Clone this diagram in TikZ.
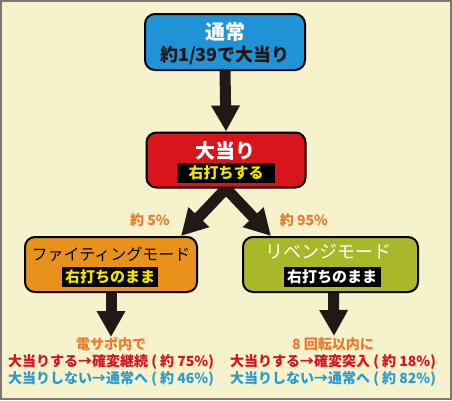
\documentclass[tikz,border=0pt]{standalone}
\usepackage{fontspec}
\setmainfont{Noto Sans CJK JP}
\usetikzlibrary{arrows.meta,backgrounds}
\definecolor{paper}{HTML}{F6F2CB}
\definecolor{framegray}{HTML}{7D7873}
\definecolor{ink}{HTML}{231815}
\definecolor{boxblue}{HTML}{1F93D6}
\definecolor{boxred}{HTML}{D7151B}
\definecolor{boxorange}{HTML}{E8921C}
\definecolor{boxgreen}{HTML}{A9B829}
\definecolor{stripyellow}{HTML}{F3E600}
\definecolor{noteorange}{HTML}{E97A2E}
\definecolor{notered}{HTML}{D7141D}
\definecolor{noteblue}{HTML}{2A9BD0}
\tikzset{
BOX/.style ={draw=black,line width=2pt,rounded corners=10pt,fill=#1,inner sep=0pt},
TITLE/.style ={text=#1,inner sep=0pt,font=\bfseries\fontsize{20}{20}\selectfont},
STRIP/.style={fill=black,text=#1,inner sep=0pt,minimum width=97pt,minimum height=20pt,font=\bfseries\fontsize{15}{15}\selectfont},
NOTE/.style ={text=#1,inner sep=0pt,font=\bfseries\fontsize{14}{14}\selectfont},
NOTE/.default = ink,
BIGARROW/.style={draw=ink,line width=11pt,-{Triangle[length=26pt,width=27pt]}},
}
\begin{document}
\begin{tikzpicture} [x=1pt, y=-1pt] %flow of the modes
	\useasboundingbox (0,0) rectangle (452,400);
	\node[BOX=boxblue,minimum width=160pt,minimum height=56pt] (normal) at (225,42) {};
	\node[TITLE=white] (normaltitle) at (225,32) {通常};
	\node[NOTE=ink,font=\bfseries\fontsize{18}{18}\selectfont] (normalodds) at (225,55) {約1/39で大当り};
	\node[BOX=boxred,minimum width=159pt,minimum height=55pt] (hit) at (226,160) {};
	\node[TITLE=white] (hittitle) at (225,151) {大当り};
	\node[STRIP=stripyellow,minimum width=98pt] (hitstrip) at (226,173) {右打ちする};
	\node[BOX=boxorange,minimum width=172pt,minimum height=55pt] (fight) at (111,264.5) {};
	\node[text=black,inner sep=0pt,font=\fontsize{16}{16}\selectfont] (fighttitle) at (111,254) {ファイティングモード};
	\node[STRIP=stripyellow,minimum width=96pt] (fightstrip) at (110,277) {右打ちのまま};
	\node[BOX=boxgreen,minimum width=175pt,minimum height=55pt] (revenge) at (330.5,264.5) {};
	\node[text=white,inner sep=0pt,font=\fontsize{18}{18}\selectfont] (revengetitle) at (328,252) {リベンジモード};
	\node[STRIP=white] (revengestrip) at (332,277) {右打ちのまま};
	\node[NOTE=noteorange] (fightrate) at (150,220) {約 5\%};
	\node[NOTE=noteorange] (revengerate) at (304,220) {約 95\%};
	\node[NOTE=noteorange] (fightcond) at (111,344) {電サポ内で};
	\node[NOTE=notered,anchor=west] (fightwin) at (8,362) {大当りする→確変継続 ( 約 75\%)};
	\node[NOTE=noteblue,anchor=west] (fightlose) at (8,379) {大当りしない→通常へ ( 約 46\%)};
	\node[NOTE=noteorange] (revengecond) at (333,344) {8 回転以内に};
	\node[NOTE=notered,anchor=west] (revengewin) at (230,362) {大当りする→確変突入 ( 約 18\%)};
	\node[NOTE=noteblue,anchor=west] (revengelose) at (230,379) {大当りしない→通常へ ( 約 82\%)};
	\coordinate (fightend) at (111,337);
	\coordinate (revengeend) at (334,336);
	\begin{scope}[on background layer]
		\path[fill=paper] (0,0) rectangle (452,400);
		\path[BIGARROW] (normal.south) -- (hit.north);
		\path[BIGARROW] (hit.south) -- ([xshift=-17pt]fight.north east);
		\path[BIGARROW] (hit.south) -- ([xshift=29pt]revenge.north west);
		\path[BIGARROW] (fight.south) -- (fightend);
		\path[BIGARROW] ([xshift=3pt]revenge.south) -- (revengeend);
	\end{scope}
	\path[draw=framegray,line width=2pt] (1,1) rectangle (451,399);
\end{tikzpicture}
\end{document}
